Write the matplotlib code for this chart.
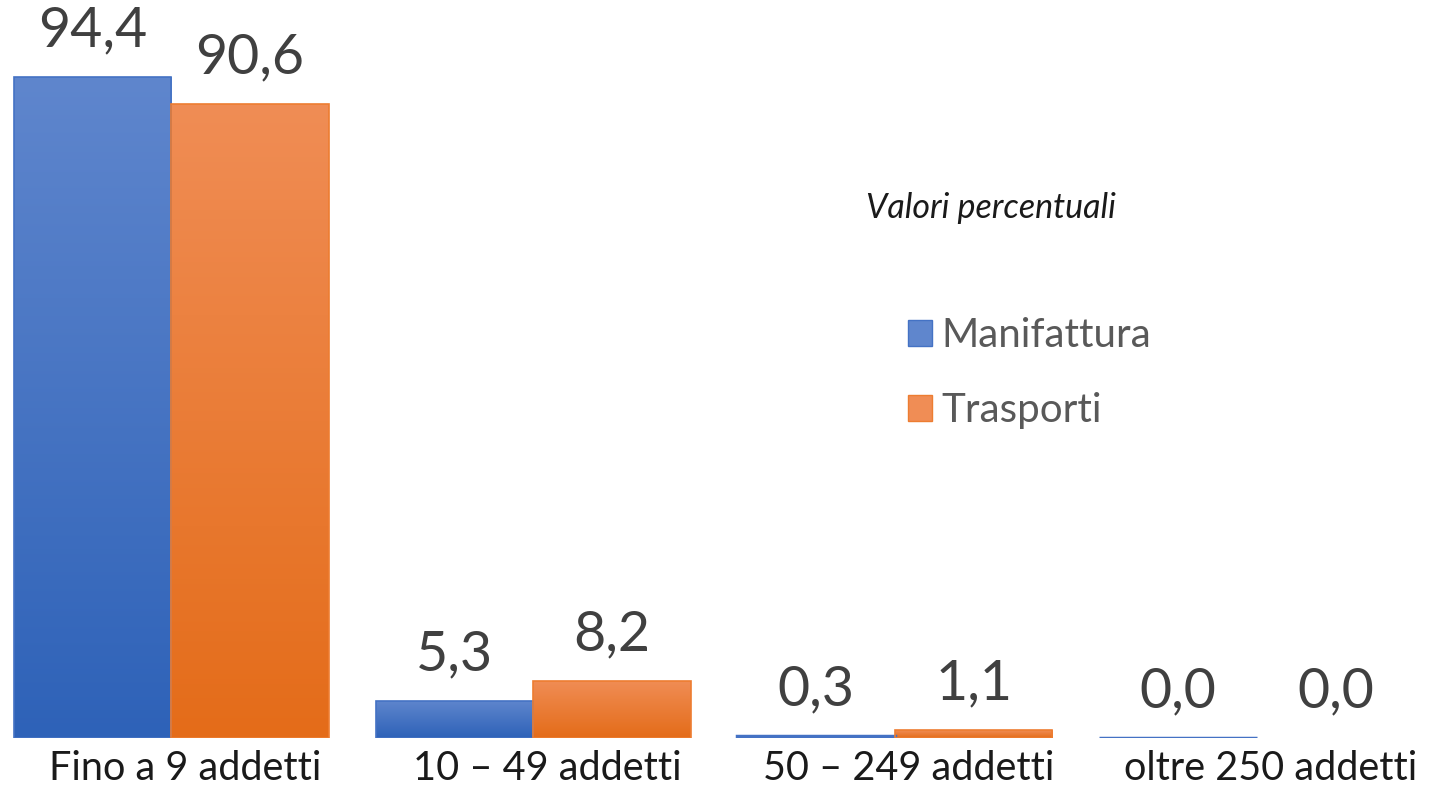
import numpy as np
import matplotlib
matplotlib.use("Agg")
import matplotlib.pyplot as plt
import matplotlib.transforms as mtransforms
from matplotlib.colors import LinearSegmentedColormap
from matplotlib.patches import Patch

categories = ["Fino a 9 addetti", "10 \u2013 49 addetti", "50 \u2013 249 addetti", "oltre 250 addetti"]
manifattura = [94.4, 5.3, 0.3, 0.04]
trasporti = [90.6, 8.2, 1.1, 0.0]
series_names = ["Manifattura", "Trasporti"]
note = "Valori percentuali"

plt.rcParams['font.family'] = ['Lato', 'DejaVu Sans']

W, H = 1433, 788
fig = plt.figure(figsize=(W / 100, H / 100), dpi=100)
base_px = 50
ax = fig.add_axes([0, base_px / H, 1, 1 - base_px / H])
px_per_cat = 362.0
x0_px = 171.0
ax.set_xlim((0 - x0_px) / px_per_cat, (W - x0_px) / px_per_cat)
ax.set_ylim(0, (H - base_px) / 7.0)
for s in ax.spines.values():
    s.set_visible(False)
ax.set_yticks([])

x = np.arange(len(categories))
bw = 157.5 / px_per_cat
colors = {
    "Manifattura": ("#5f86cd", "#2e62b8", "#4472c4"),
    "Trasporti": ("#f08d55", "#e46c19", "#ed7d31"),
}

def grad_bar(xc, h, top, bot, edge):
    cmap = LinearSegmentedColormap.from_list("g", [bot, top])
    grad = np.linspace(0, 1, 256).reshape(-1, 1)
    if 0 < h < 0.5:
        rects = ax.bar(xc, h, width=bw, color=edge, edgecolor=edge, linewidth=2.5, zorder=3)
        return rects[0]
    lw = 1.2 if h > 0 else 0
    rects = ax.bar(xc, h, width=bw, color="none", edgecolor=edge, linewidth=lw, zorder=3)
    r = rects[0]
    if h > 0:
        im = ax.imshow(grad, aspect="auto", cmap=cmap, origin="lower",
                       extent=(xc - bw / 2, xc + bw / 2, 0, h), zorder=2)
        im.set_clip_path(r)
    return r

for vals, name, off in [(manifattura, "Manifattura", -bw / 2), (trasporti, "Trasporti", bw / 2)]:
    top, bot, edge = colors[name]
    for i, v in enumerate(vals):
        grad_bar(x[i] + off, v, top, bot, edge)
        ax.annotate(f"{v:.1f}".replace(".", ","), (x[i] + off, v), xytext=(0, 22),
                    textcoords="offset points", ha="center", va="baseline",
                    fontsize=40, color="#404040")

ax.set_xticks(x)
ax.set_xticklabels(categories, fontsize=28.5, color="#1a1a1a")
ax.tick_params(axis="x", length=0, pad=9)
shift = mtransforms.ScaledTranslation(14 / 100, 0, fig.dpi_scale_trans)
for lbl in ax.get_xticklabels():
    lbl.set_transform(lbl.get_transform() + shift)

fig.text(866 / W, 1 - 208 / H, note, fontsize=24.5, style="italic", color="#1a1a1a",
         ha="left", va="center")

handles = [Patch(facecolor=colors[n][0], edgecolor=colors[n][2]) for n in series_names]
leg = fig.legend(handles, series_names, loc="upper left",
                 bbox_to_anchor=(908 / W, 1 - 317 / H), frameon=False,
                 fontsize=29, handlelength=0.6, handleheight=0.6,
                 handletextpad=0.22, labelspacing=0.95, borderpad=0, borderaxespad=0)
for t in leg.get_texts():
    t.set_color("#595959")

fig.savefig("out.png", dpi=100)
